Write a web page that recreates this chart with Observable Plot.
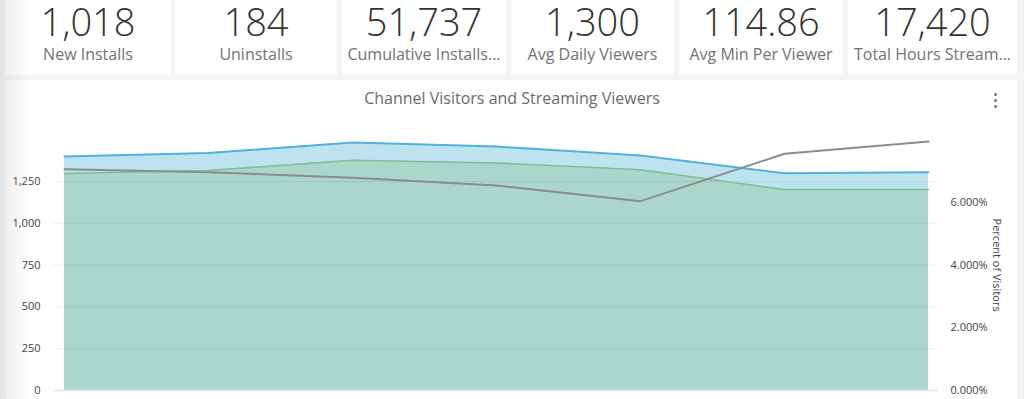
<!DOCTYPE html>
<html>
<head>
<meta charset="utf-8">
<script src="https://cdn.jsdelivr.net/npm/d3@7"></script>
<script src="https://cdn.jsdelivr.net/npm/@observablehq/plot@0.6"></script>
<style>
  html, body { margin: 0; padding: 0; }
  body { width: 1024px; height: 399px; overflow: hidden; background: #f4f5f7; position: relative; font-family: "Open Sans", sans-serif; }
  .tile { position: absolute; top: 0; height: 75px; background: #fff; text-align: center; }
  .tile .num { position: absolute; left: 0; right: 0; top: 0; height: 42px; font-size: 38px; line-height: 42px; font-weight: 300; color: #333; white-space: nowrap; }
  .tile .lbl { position: absolute; left: 0; right: 0; top: 43px; height: 22px; font-size: 16px; line-height: 22px; font-weight: 400; color: #737373; white-space: nowrap; }
  #panel { position: absolute; left: 6px; top: 80px; width: 1011px; height: 330px; background: #fff; }
  #chart { position: absolute; left: 0; top: 80px; }
  #title { position: absolute; left: 0; width: 1024px; top: 88px; text-align: center; font-size: 16px; line-height: 20px; font-weight: 400; color: #6a6a6a; }
  #menu { position: absolute; left: 994px; top: 93px; }
  #menu span { display: block; width: 3px; height: 3px; border-radius: 50%; background: #777; margin-bottom: 3px; }
  #shadow { position: absolute; left: 0; top: 0; width: 32px; height: 399px; background: linear-gradient(to right, rgba(0,0,0,0.07), rgba(0,0,0,0)); pointer-events: none; }
</style>
</head>
<body>
<div id="tiles"></div>
<div id="panel"></div>
<div id="chart"></div>
<div id="title">Channel Visitors and Streaming Viewers</div>
<div id="menu"><span></span><span></span><span></span></div>
<div id="shadow"></div>
<script>
// KPI tiles
const kpiValues = ["1,018", "184", "51,737", "1,300", "114.86", "17,420"];
const kpiLabels = ["New Installs", "Uninstalls", "Cumulative Installs...", "Avg Daily Viewers", "Avg Min Per Viewer", "Total Hours Stream..."];

// Chart data
const days = [1, 2, 3, 4, 5, 6, 7];
const channelVisitors = [1400, 1420, 1483, 1459, 1405, 1300, 1305];
const streamingViewers = [1298, 1316, 1377, 1361, 1320, 1202, 1202];
const percentOfVisitors = [7.06, 6.96, 6.79, 6.54, 6.04, 7.55, 7.94];
const leftTicks = [0, 250, 500, 750, 1000, 1250];
const rightTicks = [0, 2, 4, 6];
const leftMax = 1500;
const rightMax = 8;

// tiles layout
const tileLeft = [5, 175, 342, 511, 679, 848];
const tileWidth = [166, 162, 164, 163, 164, 169];
const tilesEl = document.getElementById("tiles");
kpiValues.forEach((v, i) => {
  const t = document.createElement("div");
  t.className = "tile";
  t.style.left = tileLeft[i] + "px";
  t.style.width = tileWidth[i] + "px";
  t.innerHTML = `<div class="num">${v}</div><div class="lbl">${kpiLabels[i]}</div>`;
  tilesEl.appendChild(t);
});

const data = days.map((d, i) => ({
  day: d,
  visitors: channelVisitors[i],
  viewers: streamingViewers[i],
  pct: percentOfVisitors[i],
  pctScaled: percentOfVisitors[i] * leftMax / rightMax
}));

const fmtLeft = d3.format(",");
const gridColor = "rgba(30,40,70,0.075)";

const chart = Plot.plot({
  width: 1024,
  height: 330,
  marginLeft: 62,
  marginRight: 95,
  marginTop: 59.2,
  marginBottom: 20,
  style: { fontFamily: "'Open Sans', sans-serif", fontSize: "11px", color: "#444", background: "transparent" },
  x: { type: "point", domain: days, padding: 0, axis: null },
  y: { domain: [0, leftMax], axis: null },
  marks: [
    Plot.areaY(data, { x: "day", y: "visitors", fill: "#bfe2ef" }),
    Plot.areaY(data, { x: "day", y: "viewers", fill: "#aad6cc" }),
    Plot.ruleY(leftTicks.slice(1), { stroke: gridColor, strokeWidth: 1, insetLeft: -9, insetRight: -9 }),
    Plot.ruleY([0], { stroke: "#dbe3f0", strokeWidth: 1.5, insetLeft: -9, insetRight: -9 }),
    Plot.lineY(data, { x: "day", y: "viewers", stroke: "#7dc192", strokeWidth: 1.6 }),
    Plot.lineY(data, { x: "day", y: "visitors", stroke: "#4fb4da", strokeWidth: 2 }),
    Plot.lineY(data, { x: "day", y: "pctScaled", stroke: "#8c8c8c", strokeWidth: 2 }),
    Plot.axisY({ anchor: "left", ticks: leftTicks, tickSize: 0, tickPadding: 22, tickFormat: fmtLeft, label: null, fill: "#444" }),
    Plot.axisY({ anchor: "right", ticks: rightTicks.map(p => p * leftMax / rightMax), tickSize: 0, tickPadding: 21,
      tickFormat: d => (d * rightMax / leftMax).toFixed(3) + "%", label: null, textAnchor: "start", fill: "#444" }),
    Plot.text(["Percent of Visitors"], { frameAnchor: "right", rotate: 90, dx: 67, textAnchor: "middle", fill: "#444", fontSize: 11 })
  ]
});
document.getElementById("chart").appendChild(chart);
</script>
</body>
</html>
